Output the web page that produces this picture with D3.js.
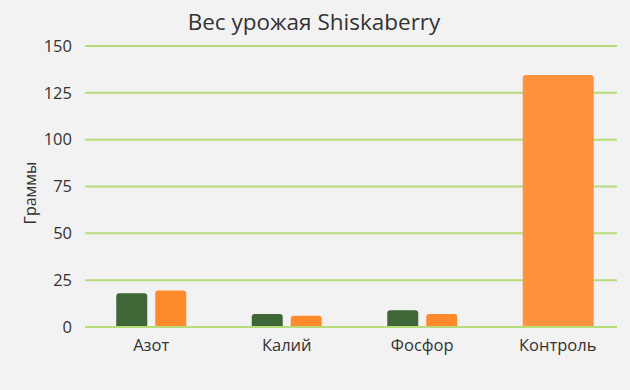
<!DOCTYPE html>
<html>
<head>
<meta charset="utf-8">
<script src="https://cdn.jsdelivr.net/npm/d3@7"></script>
<style>
  html, body { margin: 0; padding: 0; background: #f2f2f2; }
  svg { display: block; font-family: "Open Sans", sans-serif; }
</style>
</head>
<body>
<div id="chart"></div>
<script>
// Chart data
const categories = ["Азот", "Калий", "Фосфор", "Контроль"];
const greenValues = [18, 7, 9, null];
const orangeValues = [19.5, 6, 7, 134.5];
const yTicks = [0, 25, 50, 75, 100, 125, 150];

const width = 630, height = 390;
const plot = { left: 85, right: 617, top: 46, bottom: 327 };

const svg = d3.select("#chart").append("svg")
    .attr("width", width)
    .attr("height", height);

svg.append("rect")
    .attr("width", width).attr("height", height)
    .attr("fill", "#f2f2f2");

const y = d3.scaleLinear().domain([0, 150]).range([plot.bottom, plot.top]);

// category bands (label centres sit a bit right of the grid centre)
const x0 = d3.scaleBand().domain(categories).range([83.5, 625.5]).padding(0);
const groupW = 70;
const x1 = d3.scaleBand().domain(["g", "o"]).range([0, groupW]).paddingInner(0.205);

// grid lines
svg.append("g").selectAll("line")
    .data(yTicks)
    .join("line")
    .attr("x1", plot.left).attr("x2", plot.right)
    .attr("y1", d => y(d)).attr("y2", d => y(d))
    .attr("stroke", "#b7dc7a")
    .attr("stroke-width", 2);

// y tick labels
svg.append("g").selectAll("text")
    .data(yTicks)
    .join("text")
    .attr("x", 72)
    .attr("y", d => y(d))
    .attr("dy", "0.35em")
    .attr("text-anchor", "end")
    .attr("font-size", 16.5)
    .attr("fill", "#333")
    .text(d => d);

// rounded-top bar path
function barPath(x, yTop, w, yBase, r) {
    r = Math.min(r, (yBase - yTop) / 2, w / 2);
    return `M${x},${yBase}V${yTop + r}Q${x},${yTop} ${x + r},${yTop}` +
        `H${x + w - r}Q${x + w},${yTop} ${x + w},${yTop + r}V${yBase}Z`;
}

const bars = [];
categories.forEach((c, i) => {
    const gx = x0(c) + x0.bandwidth() / 2 - groupW / 2;
    const g = greenValues[i], o = orangeValues[i];
    if (g == null && o != null) {
        bars.push({ x: gx, w: groupW + 1, v: o, color: "#ff913f" });
        return;
    }
    if (g != null) bars.push({ x: gx + x1("g"), w: x1.bandwidth(), v: g, color: "#3e6637" });
    if (o != null) bars.push({ x: gx + x1("o"), w: x1.bandwidth(), v: o, color: "#ff8a2b" });
});

svg.append("g").selectAll("path")
    .data(bars)
    .join("path")
    .attr("d", d => barPath(d.x, y(d.v), d.w, plot.bottom, 3))
    .attr("fill", d => d.color);

// redraw baseline on top of bars
svg.append("line")
    .attr("x1", plot.left).attr("x2", plot.right)
    .attr("y1", y(0)).attr("y2", y(0))
    .attr("stroke", "#b7dc7a")
    .attr("stroke-width", 2);

// category labels
svg.append("g").selectAll("text")
    .data(categories)
    .join("text")
    .attr("x", d => x0(d) + x0.bandwidth() / 2)
    .attr("y", 345)
    .attr("dy", "0.35em")
    .attr("text-anchor", "middle")
    .attr("font-size", 16.5)
    .attr("fill", "#333")
    .text(d => d);

// title
svg.append("text")
    .attr("x", 314).attr("y", 22)
    .attr("dy", "0.35em")
    .attr("text-anchor", "middle")
    .attr("font-size", 22.5)
    .attr("fill", "#333")
    .text("Вес урожая Shiskaberry");

// y axis label
svg.append("text")
    .attr("transform", "translate(30,193) rotate(-90)")
    .attr("dy", "0.35em")
    .attr("text-anchor", "middle")
    .attr("font-size", 16)
    .attr("fill", "#333")
    .text("Граммы");
</script>
</body>
</html>
